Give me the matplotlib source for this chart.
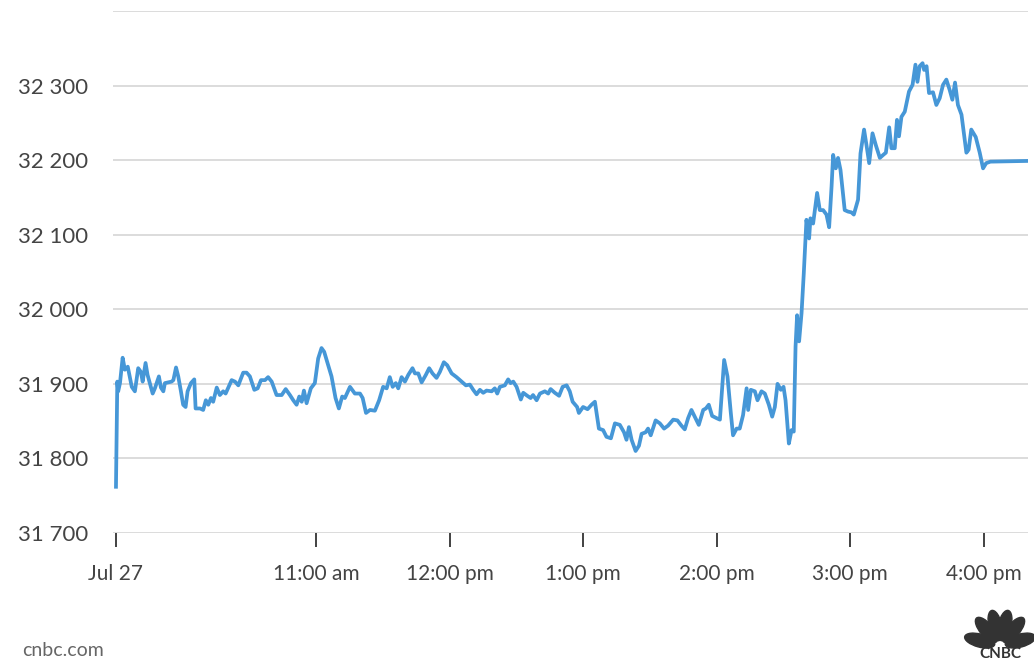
import matplotlib
matplotlib.use("Agg")
import matplotlib.pyplot as plt
from matplotlib.patches import Ellipse
import numpy as np

# minutes since 9:30 am, Jul 27
minutes = [0, 0.6, 1.0, 1.8, 3.0, 4.0, 5.3, 7.1, 8.5, 10.0, 11.2, 12.0, 13.3, 14.2, 16.5, 17.5,
           19.3, 20.2, 21.3, 22.0, 25.0, 25.8, 27.0, 28.0, 29.2, 30.2, 31.3, 32.2, 33.7, 35.2,
           35.8, 37.8, 39.2, 40.4, 41.5, 42.7, 43.7, 45.3, 46.7, 48.2, 49.3, 52.0, 53.5, 55.0,
           57.2, 58.7, 60.2, 62.2, 63.7, 65.2, 67.0, 68.4, 70.0, 72.2, 74.5, 76.3, 78.2, 79.7,
           81.2, 82.4, 83.5, 84.5, 85.7, 87.6, 89.4, 90.9, 92.4, 93.6, 95.1, 96.9, 98.7, 100.2,
           101.7, 102.9, 105.2, 107.4, 109.7, 110.9, 112.4, 114.2, 116.4, 118.3, 120.1, 121.7,
           123.1, 124.4, 125.8, 126.9, 128.4, 129.9, 131.4, 133.3, 134.4, 135.9, 137.4, 139.3,
           140.8, 142.3, 144.1, 145.6, 147.4, 148.9, 150.9, 153.1, 155.4, 157.3, 159.1, 160.6,
           162.1, 163.6, 165.1, 166.6, 168.9, 170.3, 171.4, 172.6, 174.8, 176.3, 177.4, 178.6,
           180.1, 182.0, 183.1, 184.9, 186.4, 187.5, 189.1, 190.6, 192.8, 194.3, 195.4, 197.3,
           199.2, 200.8, 202.6, 204.0, 205.3, 207.3, 208.1, 210.0, 212.0, 213.8, 215.3, 217.1,
           219.0, 220.5, 222.5, 224.3, 226.5, 228.4, 229.5, 230.6, 231.8, 233.6, 235.1, 236.3,
           238.1, 239.2, 240.4, 242.6, 244.5, 246.4, 248.2, 250.5, 252.4, 254.2, 255.7, 257.2,
           258.7, 260.2, 262.0, 264.0, 265.2, 266.5, 268.0, 270.0, 271.5, 273.4, 274.9, 276.4,
           277.4, 279.0, 280.4, 281.9, 283.5, 284.2, 285.4, 287.2, 288.4, 290.2, 291.7, 293.5,
           295.0, 296.2, 297.4, 298.9, 300.1, 301.0, 302.5, 303.7, 304.7, 305.5, 306.2, 307.1,
           308.2, 309.2, 310.4, 311.6, 312.2, 313.4, 315.2, 316.4, 317.9, 319.4, 320.6, 321.7,
           322.4, 323.6, 324.6, 325.7, 327.6, 329.1, 330.6, 331.7, 333.6, 334.7, 335.6, 336.3,
           337.4, 338.6, 340.1, 341.6, 343.4, 344.9, 346.1, 347.6, 348.6, 350.1, 351.1, 352.0,
           353.1, 354.6, 356.5, 358.1, 359.4, 360.3, 361.3, 362.6, 363.3, 364.4, 365.5, 367.3,
           368.8, 370.3, 371.8, 373.3, 374.8, 376.0, 377.2, 378.5, 380.1, 382.3, 383.3, 384.5,
           386.5, 388.3, 389.8, 391.2, 393.1, 410.8]

values = [31762, 31903, 31890, 31901, 31935, 31919, 31923, 31896, 31890, 31921, 31916, 31903,
          31928, 31912, 31887, 31894, 31910, 31895, 31890, 31901, 31903, 31905, 31922, 31910,
          31890, 31872, 31869, 31890, 31901, 31906, 31867, 31867, 31865, 31878, 31872, 31881,
          31876, 31895, 31885, 31890, 31887, 31905, 31903, 31898, 31915, 31915, 31910, 31892,
          31894, 31905, 31905, 31909, 31903, 31885, 31885, 31893, 31885, 31878, 31872, 31883,
          31876, 31891, 31874, 31894, 31901, 31934, 31948, 31943, 31928, 31910, 31881, 31867,
          31883, 31881, 31896, 31887, 31887, 31881, 31861, 31865, 31864, 31878, 31896, 31894,
          31909, 31896, 31901, 31894, 31909, 31903, 31912, 31921, 31914, 31914, 31902, 31912,
          31921, 31914, 31908, 31916, 31929, 31925, 31914, 31909, 31903, 31898, 31899, 31892,
          31886, 31892, 31888, 31891, 31890, 31894, 31887, 31896, 31898, 31906, 31901, 31903,
          31896, 31879, 31888, 31884, 31881, 31885, 31878, 31887, 31890, 31887, 31893, 31888,
          31884, 31896, 31898, 31890, 31876, 31869, 31861, 31869, 31866, 31872, 31876, 31840,
          31838, 31829, 31827, 31847, 31845, 31835, 31825, 31842, 31825, 31810, 31817, 31833,
          31835, 31840, 31831, 31851, 31847, 31840, 31844, 31852, 31851, 31844, 31839, 31854,
          31865, 31856, 31845, 31865, 31867, 31872, 31857, 31854, 31852, 31932, 31910, 31861,
          31831, 31840, 31840, 31858, 31894, 31865, 31892, 31890, 31878, 31890, 31887, 31872,
          31856, 31869, 31900, 31892, 31896, 31878, 31820, 31838, 31836, 31950, 31992, 31957,
          31995, 32048, 32120, 32095, 32122, 32115, 32156, 32133, 32133, 32127, 32110, 32165,
          32207, 32189, 32203, 32187, 32133, 32131, 32130, 32127, 32147, 32209, 32227, 32241,
          32220, 32196, 32236, 32220, 32203, 32207, 32210, 32244, 32216, 32216, 32254, 32232,
          32258, 32265, 32292, 32301, 32328, 32305, 32326, 32330, 32321, 32326, 32290, 32291,
          32274, 32283, 32301, 32308, 32294, 32281, 32304, 32274, 32261, 32210, 32214, 32241,
          32231, 32210, 32189, 32196, 32198, 32199]

tick_minutes = [0, 90, 150, 210, 270, 330, 390]
tick_labels = ["Jul 27", "11:00 am", "12:00 pm", "1:00 pm", "2:00 pm", "3:00 pm", "4:00 pm"]
y_ticks = [31700, 31800, 31900, 32000, 32100, 32200, 32300]
y_grid = [31700, 31800, 31900, 32000, 32100, 32200, 32300, 32400]

plt.rcParams['font.family'] = ['Lato', 'DejaVu Sans']

W, H = 1034, 662
fig = plt.figure(figsize=(W / 100, H / 100), dpi=100)
ax = fig.add_axes([113.3 / W, 1 - 533 / H, (1028 - 113.3) / W, (533 - 11) / H])

for g in y_grid:
    ax.axhline(g, color="#d9d9d9", lw=1.3, zorder=1)

ax.plot(minutes, values, color="#4697d7", lw=2.7, zorder=3, solid_joinstyle="round")

ax.set_xlim(-1.2, 410.0)
ax.set_ylim(31700, 32400)

for s in ax.spines.values():
    s.set_visible(False)

ax.set_xticks(tick_minutes)
ax.set_xticklabels(tick_labels)
ax.set_yticks(y_ticks)
ax.set_yticklabels([f"{v // 1000} {v % 1000:03d}" for v in y_ticks])
ax.tick_params(axis="x", direction="out", length=10, width=1.3, color="#333333",
               pad=12, labelsize=15, labelcolor="#444444")
ax.tick_params(axis="y", length=0, pad=18, labelsize=16, labelcolor="#444444")

fig.text(22 / W, 1 - 650 / H, "cnbc.com", fontsize=14, color="#666666", va="center", ha="left")

# CNBC peacock logo (approximate)
cx, cy = 10.0, 0.16
for ang in [165, 130, 103, 77, 50, 15]:
    a = np.deg2rad(ang)
    r = 0.21
    e = Ellipse((cx + r * np.cos(a), cy + r * np.sin(a)), 0.13, 0.31, angle=ang - 90,
                transform=fig.dpi_scale_trans, color="#333333", zorder=5)
    fig.patches.append(e)
fig.text(1000 / W, 1 / H, "CNBC", fontsize=11, fontweight="bold", color="#333333",
         ha="center", va="bottom")

fig.savefig("out.png", dpi=100)
